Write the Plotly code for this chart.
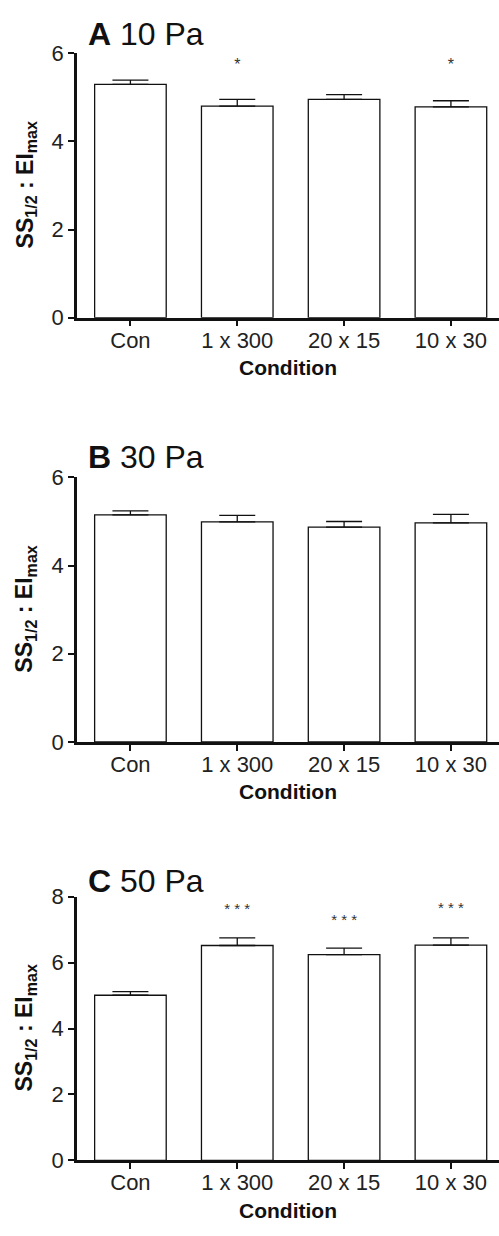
import plotly.graph_objects as go

conditions = ["Con", "1 x 300", "20 x 15", "10 x 30"]

# Panel A (10 Pa)
a_mean = [5.29, 4.80, 4.95, 4.78]
a_err = [0.10, 0.15, 0.11, 0.14]
a_sig = ["", "*", "", "*"]
a_sig_y = [None, 5.72, None, 5.70]

# Panel B (30 Pa)
b_mean = [5.15, 4.99, 4.87, 4.97]
b_err = [0.09, 0.15, 0.13, 0.19]

# Panel C (50 Pa)
c_mean = [5.01, 6.52, 6.24, 6.53]
c_err = [0.11, 0.23, 0.20, 0.22]
c_sig = ["", "* * *", "* * *", "* * *"]
c_sig_y = [None, 7.60, 7.26, 7.63]

panel_titles = ["<b>A</b> 10 Pa", "<b>B</b> 30 Pa", "<b>C</b> 50 Pa"]
y_ranges = [[0, 6], [0, 6], [0, 8]]
y_ticks = [[0, 2, 4, 6], [0, 2, 4, 6], [0, 2, 4, 6, 8]]

W, H = 499, 1236
FONT = "Liberation Sans, Arial, sans-serif"
# pixel layout of each panel's plot area (top, bottom)
panel_px = [(42, 312), (475, 745), (903, 1172)]
title_px = [22, 454, 887]
x_left = 77

fig = go.Figure()
means = [a_mean, b_mean, c_mean]
errs = [a_err, b_err, c_err]

for i in range(3):
    ax = "" if i == 0 else str(i + 1)
    fig.add_trace(go.Bar(
        x=conditions, y=means[i],
        xaxis="x" + ax, yaxis="y" + ax,
        width=0.67,
        marker=dict(color="white", line=dict(color="#111", width=1.3)),
        error_y=dict(type="data", symmetric=False, array=errs[i],
                     arrayminus=[0] * 4, color="#111", thickness=1.3, width=18),
        showlegend=False,
    ))

fig.add_trace(go.Scatter(x=conditions, y=a_sig_y, text=a_sig, mode="text",
                         textfont=dict(family=FONT, size=16, color="#333"),
                         xaxis="x", yaxis="y", showlegend=False))
fig.add_trace(go.Scatter(x=conditions, y=c_sig_y, text=c_sig, mode="text",
                         textfont=dict(family=FONT, size=15, color="#333"),
                         xaxis="x3", yaxis="y3", showlegend=False))

layout = dict(
    width=W, height=H,
    margin=dict(l=0, r=0, t=0, b=0),
    paper_bgcolor="white", plot_bgcolor="white",
    font=dict(family=FONT, size=21, color="#222"),
    annotations=[],
)

for i in range(3):
    ax = "" if i == 0 else str(i + 1)
    top, bot = panel_px[i]
    layout["xaxis" + ax] = dict(
        domain=[x_left / W, 1],
        anchor="y" + ax,
        range=[-0.5, 3.45],
        showline=True, linecolor="#111", linewidth=2.5,
        ticks="outside", ticklen=6, tickwidth=2, tickcolor="#111",
        tickfont=dict(size=22, color="#222"),
        ticklabelstandoff=-5,
        showgrid=False, zeroline=False,
    )
    layout["yaxis" + ax] = dict(
        domain=[1 - bot / H, 1 - top / H],
        anchor="x" + ax,
        range=y_ranges[i],
        tickvals=y_ticks[i],
        showline=True, linecolor="#111", linewidth=2.5,
        ticks="outside", ticklen=6, tickwidth=2, tickcolor="#111",
        tickfont=dict(size=22, color="#222"),
        showgrid=False, zeroline=False,
    )
    layout["annotations"].append(dict(
        text=panel_titles[i], xref="paper", yref="paper",
        x=86 / W, y=1 - title_px[i] / H, xanchor="left", yanchor="middle",
        showarrow=False, font=dict(size=32, color="#111"),
    ))
    layout["annotations"].append(dict(
        text="<b>SS<sub>1/2</sub> : EI<sub>max</sub></b>", xref="paper", yref="paper",
        x=26 / W, y=1 - ((top + bot) / 2) / H, xanchor="center", yanchor="middle",
        textangle=-90, showarrow=False, font=dict(size=23, color="#111"),
    ))
    layout["annotations"].append(dict(
        text="<b>Condition</b>", xref="paper", yref="paper",
        x=(x_left + W) / 2 / W, y=1 - (bot + 51) / H, xanchor="center", yanchor="middle",
        showarrow=False, font=dict(size=21, color="#111"),
    ))

fig.update_layout(**layout)
fig.write_html("out.html")
